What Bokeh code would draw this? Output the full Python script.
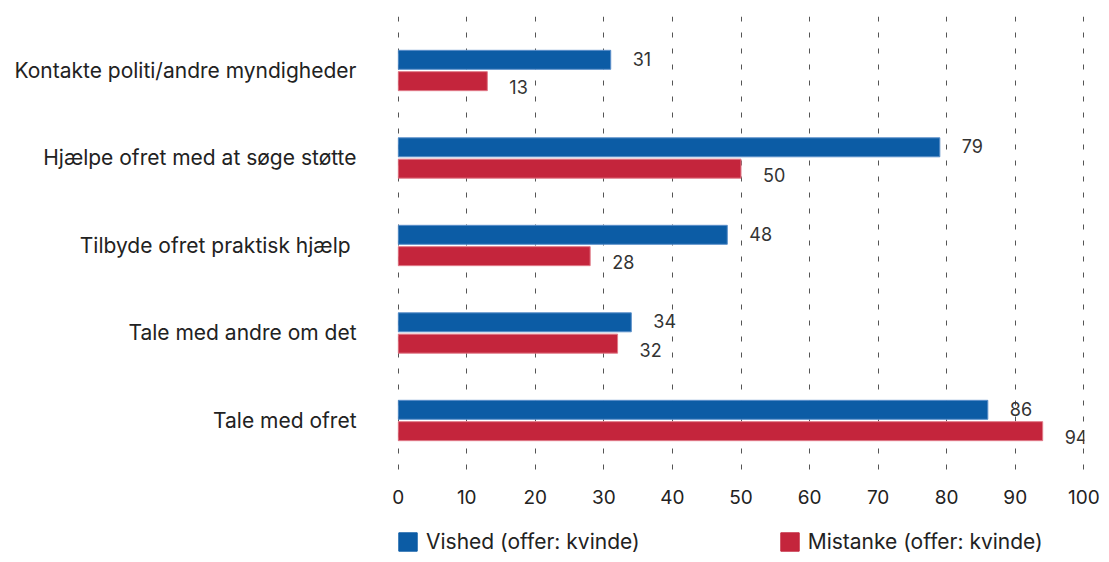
from bokeh.plotting import figure
from bokeh.layouts import column
from bokeh.models import Range1d, ColumnDataSource, Legend, LegendItem, FixedTicker
from bokeh.core.properties import value
from bokeh.embed import file_html
from bokeh.resources import INLINE

categories = ["Kontakte politi/andre myndigheder", "Hjælpe ofret med at søge støtte",
              "Tilbyde ofret  praktisk hjælp", "Tale med andre om det", "Tale med ofret"]
vished = [31, 79, 48, 34, 86]
mistanke = [13, 50, 28, 32, 94]
series_names = ["Vished (offer: kvinde)", "Mistanke (offer: kvinde)"]
x_ticks = [0, 10, 20, 30, 40, 50, 60, 70, 80, 90, 100]

BLUE = "#0C5CA5"
RED = "#C4253C"
FONT = "Inter"

idx = list(range(len(categories)))
src_v = ColumnDataSource(dict(y=[i - 0.122 for i in idx], v=vished, t=[str(v) for v in vished]))
src_m = ColumnDataSource(dict(y=[i + 0.122 for i in idx], v=mistanke, t=[str(v) for v in mistanke]))

p = figure(width=1101, height=514, output_backend="svg", toolbar_location=None,
           x_range=Range1d(-0.1, 100.1), y_range=Range1d(4.663, -0.617),
           min_border_left=397, min_border_right=17, min_border_top=16, min_border_bottom=36)
p.outline_line_color = None
p.background_fill_color = "white"

p.hbar(y="y", right="v", left=0, height=0.217, source=src_v, fill_color=BLUE,
       line_color="#5B8FC9", line_width=1)
p.hbar(y="y", right="v", left=0, height=0.217, source=src_m, fill_color=RED,
       line_color="#E07A88", line_width=1)

p.text(x="v", y="y", text="t", source=src_v, x_offset=22, y_offset=-1,
       text_font=value(FONT), text_font_size="18px", text_color="#333333",
       text_baseline="middle", text_align="left")
p.text(x="v", y="y", text="t", source=src_m, x_offset=22, y_offset=6,
       text_font=value(FONT), text_font_size="18px", text_color="#333333",
       text_baseline="middle", text_align="left")

p.xaxis.ticker = FixedTicker(ticks=x_ticks)
p.yaxis.ticker = FixedTicker(ticks=idx)
p.yaxis.major_label_overrides = {i: c for i, c in enumerate(categories)}

for ax in (p.xaxis, p.yaxis):
    ax.axis_line_color = None
    ax.major_tick_line_color = None
    ax.minor_tick_line_color = None
    ax.major_tick_out = 0
    ax.major_tick_in = 0
    ax.major_label_text_font = FONT
    ax.major_label_text_color = "#222222"
p.xaxis.major_label_text_font_size = "19px"
p.xaxis.major_label_standoff = 11
p.yaxis.major_label_text_font_size = "21px"
p.yaxis.major_label_standoff = 41

p.ygrid.grid_line_color = None
p.xgrid.grid_line_color = "#555555"
p.xgrid.grid_line_dash = "5 11"
p.xgrid.grid_line_width = 1

# legend strip (its swatch renderers sit outside the visible range)
lf = figure(width=1101, height=40, output_backend="svg", toolbar_location=None,
            x_axis_type=None, y_axis_type=None, x_range=Range1d(0, 1), y_range=Range1d(0, 1),
            min_border_left=397, min_border_right=0, min_border_top=0, min_border_bottom=0)
lf.outline_line_color = None
lf.grid.grid_line_color = None
lr1 = lf.hbar(y=[-10], right=[1], left=0, height=0.5, fill_color=BLUE, line_color=BLUE)
lr2 = lf.hbar(y=[-10], right=[1], left=0, height=0.5, fill_color=RED, line_color=RED)
legend = Legend(items=[LegendItem(label=series_names[0], renderers=[lr1]),
                       LegendItem(label=series_names[1], renderers=[lr2])],
                orientation="horizontal", location=(-1, 0), margin=0, padding=0,
                spacing=138, label_standoff=7, glyph_width=23, glyph_height=23,
                label_text_font=FONT, label_text_font_size="21px", label_text_color="#222222",
                label_text_baseline="middle",
                border_line_color=None, background_fill_alpha=0)
lf.add_layout(legend, "center")

layout = column(p, lf, spacing=0)
open("out.html", "w").write(file_html(layout, INLINE))
